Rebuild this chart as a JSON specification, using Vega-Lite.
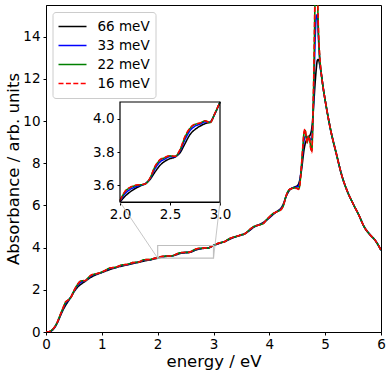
{
  "$schema": "https://vega.github.io/schema/vega-lite/v6.json",
  "width": 335,
  "height": 327,
  "autosize": "none",
  "padding": {"left": 46, "top": 5, "right": 10, "bottom": 42},
  "background": "white",
  "config": {
    "font": "DejaVu Sans",
    "view": {"stroke": "black", "strokeWidth": 1},
    "axis": {
      "domainColor": "black", "tickColor": "black", "labelColor": "black", "titleColor": "black",
      "labelFont": "DejaVu Sans", "titleFont": "DejaVu Sans", "labelFontSize": 13.5, "titleFontSize": 16.5,
      "titleFontWeight": "normal", "grid": false, "tickSize": 3, "labelPadding": 2, "domainWidth": 1, "tickWidth": 1,
      "labelFlush": false, "labelOverlap": false
    },
    "legend": {
      "orient": "none", "legendX": 6.5, "legendY": 7, "fillColor": "white", "strokeColor": "#cccccc",
      "cornerRadius": 3, "padding": 5, "symbolType": "stroke", "symbolSize": 784, "symbolStrokeWidth": 1.6,
      "labelFontSize": 13.5, "labelFont": "DejaVu Sans", "labelColor": "black", "clipHeight": 19,
      "rowPadding": 0, "labelOffset": 10, "offset": 0
    }
  },
  "datasets": {
    "curves": [
      {"x":0.00,"66 meV":0.00,"33 meV":0.00,"22 meV":0.00,"16 meV":0.00},
      {"x":0.05,"66 meV":0.01,"33 meV":0.01,"22 meV":0.01,"16 meV":0.01},
      {"x":0.10,"66 meV":0.06,"33 meV":0.07,"22 meV":0.08,"16 meV":0.08},
      {"x":0.15,"66 meV":0.20,"33 meV":0.21,"22 meV":0.22,"16 meV":0.22},
      {"x":0.20,"66 meV":0.42,"33 meV":0.44,"22 meV":0.45,"16 meV":0.45},
      {"x":0.25,"66 meV":0.72,"33 meV":0.76,"22 meV":0.78,"16 meV":0.78},
      {"x":0.30,"66 meV":1.02,"33 meV":1.07,"22 meV":1.10,"16 meV":1.10},
      {"x":0.35,"66 meV":1.26,"33 meV":1.36,"22 meV":1.41,"16 meV":1.42},
      {"x":0.40,"66 meV":1.47,"33 meV":1.50,"22 meV":1.52,"16 meV":1.52},
      {"x":0.45,"66 meV":1.68,"33 meV":1.67,"22 meV":1.66,"16 meV":1.66},
      {"x":0.50,"66 meV":1.90,"33 meV":1.93,"22 meV":1.95,"16 meV":1.95},
      {"x":0.55,"66 meV":2.08,"33 meV":2.15,"22 meV":2.19,"16 meV":2.20},
      {"x":0.60,"66 meV":2.21,"33 meV":2.31,"22 meV":2.37,"16 meV":2.38},
      {"x":0.65,"66 meV":2.31,"33 meV":2.39,"22 meV":2.43,"16 meV":2.44},
      {"x":0.70,"66 meV":2.40,"33 meV":2.42,"22 meV":2.43,"16 meV":2.43},
      {"x":0.75,"66 meV":2.50,"33 meV":2.53,"22 meV":2.55,"16 meV":2.55},
      {"x":0.80,"66 meV":2.59,"33 meV":2.64,"22 meV":2.67,"16 meV":2.68},
      {"x":0.85,"66 meV":2.66,"33 meV":2.71,"22 meV":2.73,"16 meV":2.74},
      {"x":0.90,"66 meV":2.72,"33 meV":2.74,"22 meV":2.76,"16 meV":2.76},
      {"x":0.95,"66 meV":2.77,"33 meV":2.79,"22 meV":2.80,"16 meV":2.80},
      {"x":1.00,"66 meV":2.82,"33 meV":2.83,"22 meV":2.84,"16 meV":2.84},
      {"x":1.05,"66 meV":2.87,"33 meV":2.89,"22 meV":2.90,"16 meV":2.90},
      {"x":1.10,"66 meV":2.92,"33 meV":2.96,"22 meV":2.98,"16 meV":2.98},
      {"x":1.15,"66 meV":2.97,"33 meV":3.01,"22 meV":3.04,"16 meV":3.04},
      {"x":1.20,"66 meV":3.01,"33 meV":3.03,"22 meV":3.05,"16 meV":3.05},
      {"x":1.25,"66 meV":3.05,"33 meV":3.06,"22 meV":3.07,"16 meV":3.07},
      {"x":1.30,"66 meV":3.09,"33 meV":3.11,"22 meV":3.12,"16 meV":3.12},
      {"x":1.35,"66 meV":3.12,"33 meV":3.15,"22 meV":3.17,"16 meV":3.17},
      {"x":1.40,"66 meV":3.15,"33 meV":3.17,"22 meV":3.19,"16 meV":3.19},
      {"x":1.45,"66 meV":3.18,"33 meV":3.19,"22 meV":3.20,"16 meV":3.20},
      {"x":1.50,"66 meV":3.21,"33 meV":3.23,"22 meV":3.24,"16 meV":3.24},
      {"x":1.55,"66 meV":3.24,"33 meV":3.27,"22 meV":3.29,"16 meV":3.29},
      {"x":1.60,"66 meV":3.27,"33 meV":3.29,"22 meV":3.30,"16 meV":3.30},
      {"x":1.65,"66 meV":3.30,"33 meV":3.31,"22 meV":3.31,"16 meV":3.31},
      {"x":1.70,"66 meV":3.33,"33 meV":3.35,"22 meV":3.36,"16 meV":3.36},
      {"x":1.75,"66 meV":3.36,"33 meV":3.40,"22 meV":3.42,"16 meV":3.42},
      {"x":1.80,"66 meV":3.39,"33 meV":3.41,"22 meV":3.43,"16 meV":3.43},
      {"x":1.85,"66 meV":3.41,"33 meV":3.42,"22 meV":3.43,"16 meV":3.43},
      {"x":1.90,"66 meV":3.44,"33 meV":3.45,"22 meV":3.46,"16 meV":3.46},
      {"x":1.95,"66 meV":3.47,"33 meV":3.49,"22 meV":3.50,"16 meV":3.50},
      {"x":2.00,"66 meV":3.50,"33 meV":3.505,"22 meV":3.508,"16 meV":3.508},
      {"x":2.05,"66 meV":3.534,"33 meV":3.55,"22 meV":3.562,"16 meV":3.564},
      {"x":2.10,"66 meV":3.56,"33 meV":3.575,"22 meV":3.586,"16 meV":3.588},
      {"x":2.15,"66 meV":3.58,"33 meV":3.59,"22 meV":3.598,"16 meV":3.60},
      {"x":2.20,"66 meV":3.595,"33 meV":3.60,"22 meV":3.603,"16 meV":3.604},
      {"x":2.25,"66 meV":3.61,"33 meV":3.608,"22 meV":3.607,"16 meV":3.608},
      {"x":2.30,"66 meV":3.635,"33 meV":3.64,"22 meV":3.643,"16 meV":3.644},
      {"x":2.35,"66 meV":3.68,"33 meV":3.70,"22 meV":3.712,"16 meV":3.714},
      {"x":2.40,"66 meV":3.72,"33 meV":3.74,"22 meV":3.752,"16 meV":3.754},
      {"x":2.45,"66 meV":3.745,"33 meV":3.758,"22 meV":3.766,"16 meV":3.768},
      {"x":2.50,"66 meV":3.76,"33 meV":3.772,"22 meV":3.777,"16 meV":3.778},
      {"x":2.55,"66 meV":3.77,"33 meV":3.772,"22 meV":3.774,"16 meV":3.774},
      {"x":2.60,"66 meV":3.795,"33 meV":3.806,"22 meV":3.812,"16 meV":3.814},
      {"x":2.65,"66 meV":3.85,"33 meV":3.875,"22 meV":3.89,"16 meV":3.894},
      {"x":2.70,"66 meV":3.905,"33 meV":3.928,"22 meV":3.941,"16 meV":3.944},
      {"x":2.75,"66 meV":3.935,"33 meV":3.955,"22 meV":3.966,"16 meV":3.968},
      {"x":2.80,"66 meV":3.955,"33 meV":3.967,"22 meV":3.973,"16 meV":3.974},
      {"x":2.85,"66 meV":3.97,"33 meV":3.98,"22 meV":3.987,"16 meV":3.988},
      {"x":2.90,"66 meV":3.98,"33 meV":3.978,"22 meV":3.976,"16 meV":3.975},
      {"x":2.95,"66 meV":4.03,"33 meV":4.032,"22 meV":4.034,"16 meV":4.034},
      {"x":3.00,"66 meV":4.10,"33 meV":4.10,"22 meV":4.10,"16 meV":4.10},
      {"x":3.05,"66 meV":4.15,"33 meV":4.16,"22 meV":4.17,"16 meV":4.17},
      {"x":3.10,"66 meV":4.20,"33 meV":4.21,"22 meV":4.22,"16 meV":4.22},
      {"x":3.15,"66 meV":4.24,"33 meV":4.25,"22 meV":4.25,"16 meV":4.25},
      {"x":3.20,"66 meV":4.29,"33 meV":4.28,"22 meV":4.28,"16 meV":4.28},
      {"x":3.25,"66 meV":4.35,"33 meV":4.36,"22 meV":4.37,"16 meV":4.37},
      {"x":3.30,"66 meV":4.41,"33 meV":4.43,"22 meV":4.44,"16 meV":4.44},
      {"x":3.35,"66 meV":4.47,"33 meV":4.48,"22 meV":4.49,"16 meV":4.49},
      {"x":3.40,"66 meV":4.52,"33 meV":4.52,"22 meV":4.52,"16 meV":4.52},
      {"x":3.45,"66 meV":4.56,"33 meV":4.56,"22 meV":4.56,"16 meV":4.56},
      {"x":3.50,"66 meV":4.60,"33 meV":4.61,"22 meV":4.61,"16 meV":4.61},
      {"x":3.55,"66 meV":4.65,"33 meV":4.64,"22 meV":4.64,"16 meV":4.64},
      {"x":3.60,"66 meV":4.72,"33 meV":4.73,"22 meV":4.74,"16 meV":4.74},
      {"x":3.65,"66 meV":4.82,"33 meV":4.84,"22 meV":4.86,"16 meV":4.86},
      {"x":3.70,"66 meV":4.93,"33 meV":4.95,"22 meV":4.96,"16 meV":4.96},
      {"x":3.75,"66 meV":5.01,"33 meV":5.02,"22 meV":5.03,"16 meV":5.03},
      {"x":3.80,"66 meV":5.07,"33 meV":5.07,"22 meV":5.06,"16 meV":5.06},
      {"x":3.85,"66 meV":5.13,"33 meV":5.11,"22 meV":5.10,"16 meV":5.10},
      {"x":3.90,"66 meV":5.20,"33 meV":5.18,"22 meV":5.16,"16 meV":5.16},
      {"x":3.95,"66 meV":5.30,"33 meV":5.31,"22 meV":5.32,"16 meV":5.32},
      {"x":4.00,"66 meV":5.41,"33 meV":5.43,"22 meV":5.45,"16 meV":5.45},
      {"x":4.05,"66 meV":5.53,"33 meV":5.56,"22 meV":5.58,"16 meV":5.58},
      {"x":4.10,"66 meV":5.64,"33 meV":5.65,"22 meV":5.66,"16 meV":5.66},
      {"x":4.15,"66 meV":5.74,"33 meV":5.73,"22 meV":5.72,"16 meV":5.72},
      {"x":4.20,"66 meV":5.84,"33 meV":5.81,"22 meV":5.78,"16 meV":5.78},
      {"x":4.25,"66 meV":6.06,"33 meV":6.01,"22 meV":5.98,"16 meV":5.98},
      {"x":4.30,"66 meV":6.42,"33 meV":6.44,"22 meV":6.45,"16 meV":6.45},
      {"x":4.35,"66 meV":6.68,"33 meV":6.71,"22 meV":6.73,"16 meV":6.74},
      {"x":4.40,"66 meV":6.81,"33 meV":6.81,"22 meV":6.80,"16 meV":6.80},
      {"x":4.45,"66 meV":6.87,"33 meV":6.85,"22 meV":6.83,"16 meV":6.82},
      {"x":4.50,"66 meV":6.93,"33 meV":6.88,"22 meV":6.81,"16 meV":6.80},
      {"x":4.52,"66 meV":7.00,"33 meV":6.90,"22 meV":6.78,"16 meV":6.76},
      {"x":4.54,"66 meV":7.15,"33 meV":7.05,"22 meV":6.88,"16 meV":6.85},
      {"x":4.56,"66 meV":7.40,"33 meV":7.45,"22 meV":7.35,"16 meV":7.35},
      {"x":4.58,"66 meV":7.75,"33 meV":7.95,"22 meV":8.03,"16 meV":8.05},
      {"x":4.60,"66 meV":8.20,"33 meV":8.55,"22 meV":8.75,"16 meV":8.80},
      {"x":4.62,"66 meV":8.62,"33 meV":9.05,"22 meV":9.40,"16 meV":9.45},
      {"x":4.64,"66 meV":8.90,"33 meV":9.25,"22 meV":9.55,"16 meV":9.62},
      {"x":4.66,"66 meV":9.06,"33 meV":9.30,"22 meV":9.25,"16 meV":9.25},
      {"x":4.68,"66 meV":9.14,"33 meV":9.22,"22 meV":9.00,"16 meV":8.95},
      {"x":4.70,"66 meV":9.20,"33 meV":9.25,"22 meV":9.28,"16 meV":9.30},
      {"x":4.72,"66 meV":9.28,"33 meV":9.22,"22 meV":9.15,"16 meV":9.15},
      {"x":4.74,"66 meV":9.40,"33 meV":9.10,"22 meV":8.80,"16 meV":8.70},
      {"x":4.76,"66 meV":9.65,"33 meV":9.15,"22 meV":8.60,"16 meV":8.50},
      {"x":4.78,"66 meV":10.20,"33 meV":10.00,"22 meV":10.00,"16 meV":10.20},
      {"x":4.80,"66 meV":11.00,"33 meV":11.80,"22 meV":12.60,"16 meV":12.80},
      {"x":4.82,"66 meV":11.80,"33 meV":13.80,"22 meV":16.00,"16 meV":16.50},
      {"x":4.84,"66 meV":12.45,"33 meV":14.90,"22 meV":18.00,"16 meV":19.00},
      {"x":4.86,"66 meV":12.88,"33 meV":15.05,"22 meV":16.20,"16 meV":16.50},
      {"x":4.88,"66 meV":12.92,"33 meV":13.90,"22 meV":14.20,"16 meV":14.30},
      {"x":4.90,"66 meV":12.70,"33 meV":13.00,"22 meV":13.10,"16 meV":13.20},
      {"x":4.92,"66 meV":12.40,"33 meV":12.45,"22 meV":12.50,"16 meV":12.50},
      {"x":4.94,"66 meV":12.05,"33 meV":12.05,"22 meV":12.05,"16 meV":12.05},
      {"x":4.96,"66 meV":11.65,"33 meV":11.65,"22 meV":11.65,"16 meV":11.65},
      {"x":4.98,"66 meV":11.30,"33 meV":11.30,"22 meV":11.30,"16 meV":11.30},
      {"x":5.00,"66 meV":10.98,"33 meV":10.98,"22 meV":10.98,"16 meV":10.98},
      {"x":5.10,"66 meV":9.55,"33 meV":9.55,"22 meV":9.55,"16 meV":9.55},
      {"x":5.20,"66 meV":8.45,"33 meV":8.45,"22 meV":8.45,"16 meV":8.45},
      {"x":5.30,"66 meV":7.40,"33 meV":7.40,"22 meV":7.40,"16 meV":7.40},
      {"x":5.40,"66 meV":6.65,"33 meV":6.65,"22 meV":6.65,"16 meV":6.65},
      {"x":5.50,"66 meV":6.08,"33 meV":6.08,"22 meV":6.08,"16 meV":6.08},
      {"x":5.60,"66 meV":5.56,"33 meV":5.56,"22 meV":5.56,"16 meV":5.56},
      {"x":5.70,"66 meV":4.98,"33 meV":4.98,"22 meV":4.98,"16 meV":4.98},
      {"x":5.80,"66 meV":4.62,"33 meV":4.62,"22 meV":4.62,"16 meV":4.62},
      {"x":5.90,"66 meV":4.33,"33 meV":4.33,"22 meV":4.33,"16 meV":4.33},
      {"x":6.00,"66 meV":3.88,"33 meV":3.88,"22 meV":3.88,"16 meV":3.88}
    ],
    "box": [{"x":2,"x2":3,"y":3.5,"y2":4.1}],
    "connectors": [
      {"x":2,"y":3.5,"x2":1.325,"y2":6.162},
      {"x":3,"y":3.5,"x2":3.116,"y2":6.162}
    ]
  },
  "layer": [
    {
      "layer": [
        {
          "data": {"name": "curves"},
          "transform": [{"fold": ["66 meV","33 meV","22 meV","16 meV"], "as": ["series","value"]}],
          "mark": {"type": "line", "strokeWidth": 1.6, "clip": true, "interpolate": "monotone"},
          "encoding": {
            "x": {"field": "x", "type": "quantitative",
                  "scale": {"domain": [0,6], "nice": false},
                  "axis": {"orient": "bottom", "title": "energy / eV", "values": [0,1,2,3,4,5,6], "format": "d", "titlePadding": 3}},
            "y": {"field": "value", "type": "quantitative",
                  "scale": {"domain": [0,15.5], "nice": false},
                  "axis": {"orient": "left", "title": "Absorbance / arb. units", "values": [0,2,4,6,8,10,12,14], "format": "d", "labelPadding": 3, "titlePadding": 1}},
            "color": {"field": "series", "type": "nominal",
                      "scale": {"domain": ["66 meV","33 meV","22 meV","16 meV"], "range": ["#000000","#0000ff","#008000","#ff0000"]},
                      "legend": {"title": null}},
            "strokeDash": {"field": "series", "type": "nominal",
                      "scale": {"domain": ["66 meV","33 meV","22 meV","16 meV"], "range": [[1,0],[1,0],[1,0],[5,2.4]]},
                      "legend": {"title": null}}
          }
        },
        {
          "data": {"name": "box"},
          "mark": {"type": "rect", "fillOpacity": 0, "stroke": "#bfbfbf", "strokeWidth": 1.2},
          "encoding": {
            "x": {"field": "x", "type": "quantitative"},
            "x2": {"field": "x2"},
            "y": {"field": "y", "type": "quantitative"},
            "y2": {"field": "y2"}
          }
        },
        {
          "data": {"name": "connectors"},
          "mark": {"type": "rule", "stroke": "#bfbfbf", "strokeWidth": 0.9},
          "encoding": {
            "x": {"field": "x", "type": "quantitative"},
            "x2": {"field": "x2"},
            "y": {"field": "y", "type": "quantitative"},
            "y2": {"field": "y2"}
          }
        }
      ]
    },
    {
      "layer": [
        {
          "data": {"name": "box"},
          "mark": {"type": "rect", "fill": "white", "strokeWidth": 0},
          "encoding": {
            "x": {"field": "x", "type": "quantitative",
                  "scale": {"domain": [2,3], "range": [74,174], "nice": false, "zero": false},
                  "axis": {"orient": "bottom", "offset": -130, "values": [2,2.5,3], "format": ".1f", "title": null}},
            "x2": {"field": "x2"},
            "y": {"field": "y", "type": "quantitative",
                  "scale": {"domain": [3.5,4.1], "range": [197,97], "nice": false, "zero": false},
                  "axis": {"orient": "left", "offset": -74, "values": [3.6,3.8,4.0], "format": ".1f", "title": null, "labelPadding": 3}},
            "y2": {"field": "y2"}
          }
        },
        {
          "data": {"name": "curves"},
          "transform": [
            {"filter": "datum.x >= 2 && datum.x <= 3"},
            {"fold": ["66 meV","33 meV","22 meV","16 meV"], "as": ["series","value"]}
          ],
          "mark": {"type": "line", "strokeWidth": 1.5, "interpolate": "monotone"},
          "encoding": {
            "x": {"field": "x", "type": "quantitative"},
            "y": {"field": "value", "type": "quantitative"},
            "color": {"field": "series", "type": "nominal", "legend": null},
            "strokeDash": {"field": "series", "type": "nominal", "legend": null}
          }
        },
        {
          "data": {"name": "box"},
          "mark": {"type": "rect", "fillOpacity": 0, "stroke": "black", "strokeWidth": 1.2},
          "encoding": {
            "x": {"field": "x", "type": "quantitative"},
            "x2": {"field": "x2"},
            "y": {"field": "y", "type": "quantitative"},
            "y2": {"field": "y2"}
          }
        }
      ]
    }
  ],
  "resolve": {
    "scale": {"x": "independent", "y": "independent"},
    "axis": {"x": "independent", "y": "independent"}
  }
}
